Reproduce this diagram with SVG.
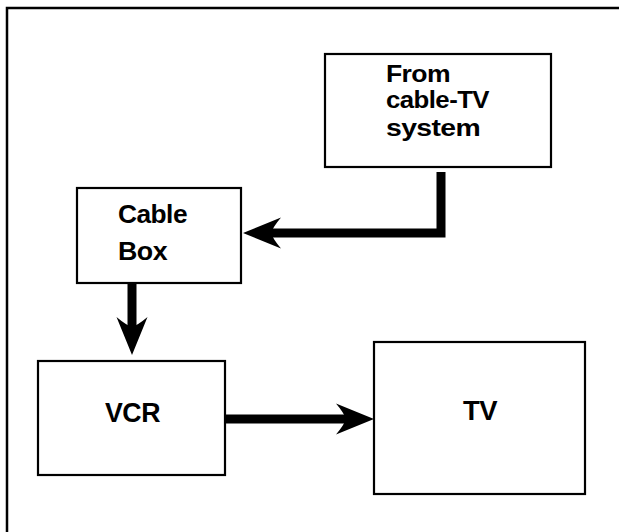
<svg xmlns="http://www.w3.org/2000/svg" width="619" height="532" viewBox="0 0 619 532">
<style>
.box{fill:#fff;stroke:#000;stroke-width:2.2}
.lbl{font-family:"Liberation Sans",Arial,Helvetica,sans-serif;font-weight:bold;fill:#000;letter-spacing:-0.5px}
.s1{font-size:23px}
.s2{font-size:25px}
.s3{font-size:27px}
.wire{fill:none;stroke:#000;stroke-width:9;stroke-linejoin:miter}
.frame{fill:none;stroke:#000;stroke-width:2.5}
</style>
<defs>
<marker id="head" viewBox="0 0 38 32" refX="10" refY="16" markerWidth="38" markerHeight="32" markerUnits="userSpaceOnUse" orient="auto">
<path d="M38,16 L0,0.5 Q8,10 10,16 Q8,22 0,31.5 Z" fill="#000"/>
</marker>
</defs>
<rect width="619" height="532" fill="#fff"/>
<path class="frame" d="M7,532 V8 H619"/>
<g id="source">
<rect class="box" x="325" y="54" width="226" height="113"/>
<text class="lbl s1" x="386" y="82" textLength="64" lengthAdjust="spacingAndGlyphs">From</text>
<text class="lbl s1" x="386" y="108" textLength="103" lengthAdjust="spacingAndGlyphs">cable-TV</text>
<text class="lbl s1" x="386" y="136" textLength="94" lengthAdjust="spacingAndGlyphs">system</text>
</g>
<g id="cablebox">
<rect class="box" x="77" y="188" width="164" height="95"/>
<text class="lbl s2" x="118" y="223" textLength="69" lengthAdjust="spacingAndGlyphs">Cable</text>
<text class="lbl s2" x="118" y="260" textLength="49" lengthAdjust="spacingAndGlyphs">Box</text>
</g>
<g id="vcr">
<rect class="box" x="38" y="361" width="187" height="114"/>
<text class="lbl s3" x="105" y="422" textLength="55" lengthAdjust="spacingAndGlyphs">VCR</text>
</g>
<g id="tv">
<rect class="box" x="374" y="342" width="211" height="152"/>
<text class="lbl s3" x="463" y="420" textLength="34" lengthAdjust="spacingAndGlyphs">TV</text>
</g>
<g id="connectors">
<path class="wire" d="M441,172 V233 H271" marker-end="url(#head)"/>
<path class="wire" d="M132,284 V327" marker-end="url(#head)"/>
<path class="wire" d="M226,419 H346" marker-end="url(#head)"/>
</g>
</svg>
